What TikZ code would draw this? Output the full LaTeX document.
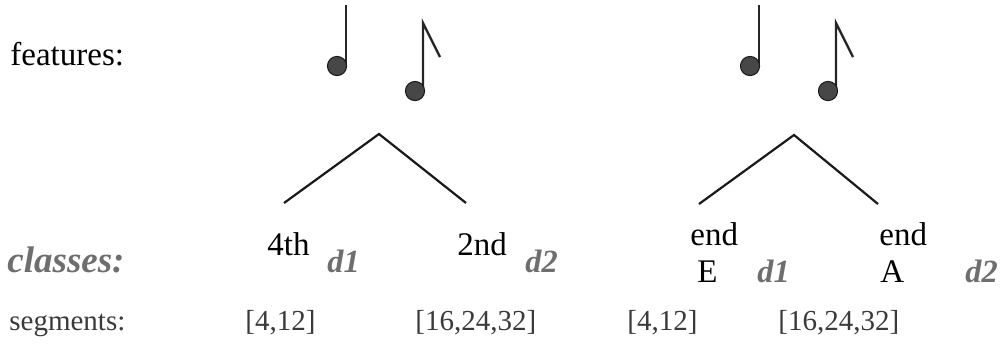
\documentclass[tikz,border=0pt]{standalone}
\usepackage{fontspec}
\setmainfont{Liberation Serif}
\usetikzlibrary{positioning}
\definecolor{clsgray}{HTML}{6E6E6E}
\definecolor{seggray}{HTML}{3A3A3A}
\tikzset{
  lab/.style={anchor=base west, inner sep=0pt, font=\fontsize{16.5}{18}\selectfont},
  cls/.style={anchor=base west, inner sep=0pt, text=clsgray, font=\fontsize{16.2}{18}\selectfont\bfseries\itshape},
  seg/.style={anchor=base west, inner sep=0pt, text=seggray, font=\fontsize{14.5}{17}\selectfont},
  branch/.style={line width=1.1pt, black!90},
  stem/.style={line width=1.2pt, black!85},
  head/.style={fill=black!72, draw=black!90, line width=0.5pt},
}
\begin{document}
\begin{tikzpicture}[x=0.5pt, y=-0.5pt]
    \useasboundingbox (0,0) rectangle (1004,355);
    % row labels
    \node[lab] (feat) at (10,65) {features:};
    \node[cls, font=\fontsize{18.5}{20}\selectfont\bfseries\itshape] (cls) at (7,272) {classes:};
    \node[seg] (segs) at (9,330) {segments:};
    % notes
    \foreach \dx in {0,413} {
      \draw[stem] (346+\dx,5) -- (346+\dx,64);
      \filldraw[head] (337+\dx,66) circle[radius=4.8pt];
      \draw[stem] (423+\dx,89) -- (423+\dx,23) -- (440+\dx,57);
      \filldraw[head] (415+\dx,91) circle[radius=4.8pt];
    }
    % trees
    \coordinate (t1) at (379,134); \coordinate (t1l) at (284,203); \coordinate (t1r) at (466,203);
    \coordinate (t2) at (794,135); \coordinate (t2l) at (699,204); \coordinate (t2r) at (878,204);
    \draw[branch] (t1l) -- (t1) -- (t1r);
    \draw[branch] (t2l) -- (t2) -- (t2r);
    % classes
    \node[lab] (c1) at (267,255) {4th};
    \node[cls] (d1a) at (327,272) {d1};
    \node[lab] (c2) at (457,255) {2nd};
    \node[cls] (d2a) at (525,272) {d2};
    \node[lab] (c3) at (690,245) {end};
    \node[lab] (c3b) at (697,282) {E};
    \node[cls] (d1b) at (757,282) {d1};
    \node[lab] (c4) at (879,245) {end};
    \node[lab] (c4b) at (880,282) {A};
    \node[cls] (d2b) at (965,282) {d2};
    % segments
    \node[seg] (s1) at (245,330) {[4,12]};
    \node[seg] (s2) at (415,330) {[16,24,32]};
    \node[seg] (s3) at (627,330) {[4,12]};
    \node[seg] (s4) at (778,330) {[16,24,32]};
  \end{tikzpicture}
\end{document}
